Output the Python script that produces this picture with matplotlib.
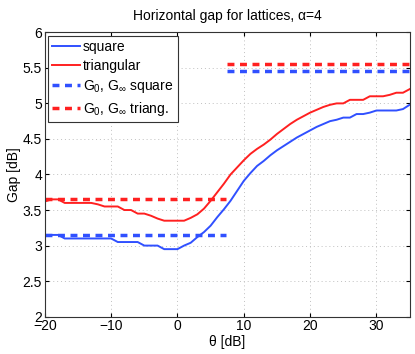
import matplotlib
matplotlib.use('Agg')
import matplotlib.pyplot as plt

plt.rcParams['font.family'] = ['Liberation Sans', 'DejaVu Sans']
plt.rcParams['mathtext.default'] = 'regular'
plt.rcParams['font.size'] = 10

# theta axis (dB)
theta = list(range(-20, 36))

# gap for the square lattice
gap_square = [3.15, 3.15, 3.15, 3.10, 3.10, 3.10, 3.10, 3.10, 3.10, 3.10,
              3.10, 3.05, 3.05, 3.05, 3.05, 3.00, 3.00, 3.00, 2.95, 2.95,
              2.95, 3.00, 3.04, 3.12, 3.19, 3.28, 3.40, 3.51, 3.63, 3.77,
              3.91, 4.02, 4.12, 4.19, 4.27, 4.34, 4.40, 4.46, 4.52, 4.57,
              4.62, 4.67, 4.71, 4.75, 4.77, 4.80, 4.80, 4.85, 4.85, 4.87,
              4.90, 4.90, 4.90, 4.90, 4.92, 4.98]

# gap for the triangular lattice
gap_triang = [3.62, 3.65, 3.65, 3.60, 3.60, 3.60, 3.60, 3.60, 3.58, 3.55,
              3.55, 3.55, 3.50, 3.50, 3.45, 3.45, 3.42, 3.38, 3.35, 3.35,
              3.35, 3.35, 3.39, 3.44, 3.52, 3.63, 3.75, 3.87, 4.00, 4.10,
              4.20, 4.29, 4.36, 4.42, 4.49, 4.57, 4.64, 4.71, 4.77, 4.82,
              4.87, 4.91, 4.95, 4.98, 5.00, 5.00, 5.05, 5.05, 5.05, 5.10,
              5.10, 5.10, 5.12, 5.15, 5.15, 5.20]

# asymptotes G_0 (low theta) and G_inf (high theta)
g0_theta = [-20, 7.3]
ginf_theta = [7.5, 35]
g0_square, ginf_square = 3.15, 5.45
g0_triang, ginf_triang = 3.65, 5.55

blue = '#3050ff'
red = '#ff2020'

fig = plt.figure(figsize=(4.15, 3.54), dpi=100)
ax = fig.add_axes([0.108, 0.1054, 0.879, 0.8034])

ax.plot(theta, gap_square, color=blue, lw=1.4, label='square')
ax.plot(theta, gap_triang, color=red, lw=1.4, label='triangular')
ax.plot(g0_theta, [g0_square] * 2, color=blue, lw=2.5, ls=(0, (2, 1.6)),
        label='G$_0$, G$_\\infty$ square')
ax.plot(ginf_theta, [ginf_square] * 2, color=blue, lw=2.5, ls=(0, (2, 1.6)))
ax.plot(g0_theta, [g0_triang] * 2, color=red, lw=2.5, ls=(0, (2, 1.6)),
        label='G$_0$, G$_\\infty$ triang.')
ax.plot(ginf_theta, [ginf_triang] * 2, color=red, lw=2.5, ls=(0, (2, 1.6)))

ax.set_xlim(-20, 35)
ax.set_ylim(2, 6)
ax.set_xticks([-20, -10, 0, 10, 20, 30])
ax.set_yticks([2, 2.5, 3, 3.5, 4, 4.5, 5, 5.5, 6])
ax.set_yticklabels(['2', '2.5', '3', '3.5', '4', '4.5', '5', '5.5', '6'])
ax.tick_params(direction='in', top=True, right=True, length=3, pad=2)
ax.grid(True, ls=(0, (1, 3)), color='#c0c0c0', lw=0.7)
for s in ax.spines.values():
    s.set_color('#333333')

ax.set_title('Horizontal gap for lattices, \u03b1=4', fontsize=10, pad=9)
ax.set_xlabel('\u03b8 [dB]', labelpad=1)
ax.set_ylabel('Gap [dB]', labelpad=1)

leg = ax.legend(loc='upper left', fancybox=False, framealpha=1,
                edgecolor='#333333', borderaxespad=0.25, handlelength=2.0,
                handletextpad=0.2, labelspacing=0.35, borderpad=0.3)
leg.get_frame().set_linewidth(0.8)

fig.savefig('out.png', dpi=100)
